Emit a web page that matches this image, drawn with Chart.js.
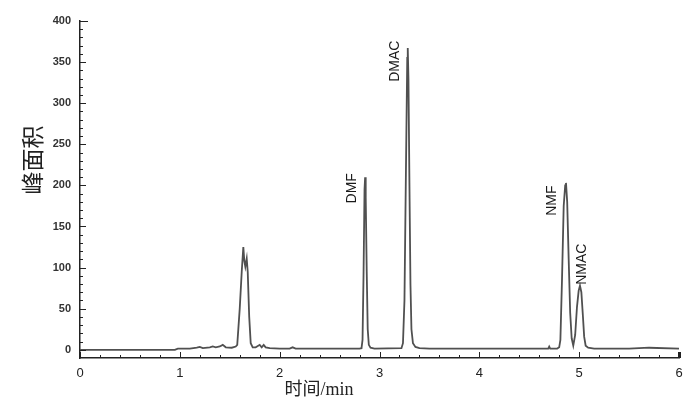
<!DOCTYPE html>
<html>
<head>
<meta charset="utf-8">
<script src="https://cdn.jsdelivr.net/npm/chart.js@4.4.1/dist/chart.umd.min.js"></script>
<style>
  html, body { margin: 0; padding: 0; background: #fff; }
  #wrap { width: 700px; height: 408px; }
</style>
</head>
<body>
<div id="wrap"><canvas id="myChart" width="700" height="408"></canvas></div>
<script>
// retention time (min) and detector signal
const tijd = [
  0, 0.5, 0.95, 0.98, 1.1, 1.17, 1.2, 1.23, 1.3, 1.33, 1.36, 1.4, 1.43, 1.46, 1.52, 1.56,
  1.575, 1.6, 1.62, 1.636, 1.646, 1.656, 1.67, 1.68, 1.695, 1.71, 1.73, 1.76, 1.8, 1.82, 1.84, 1.86, 1.9,
  2.0, 2.1, 2.13, 2.16, 2.4, 2.6, 2.8,
  2.82, 2.83, 2.84, 2.85, 2.856, 2.862, 2.872, 2.882, 2.893, 2.91, 2.95,
  3.22, 3.235, 3.25, 3.265, 3.278, 3.283, 3.29, 3.3, 3.31, 3.32, 3.335, 3.36, 3.4, 3.5,
  4.69, 4.7, 4.71, 4.78, 4.8,
  4.812, 4.828, 4.845, 4.86, 4.868, 4.88, 4.895, 4.91, 4.925, 4.941, 4.96, 4.978, 4.995, 5.008, 5.022, 5.037, 5.05, 5.065, 5.09,
  5.15, 5.5, 5.7, 6
];
const signaal = [
  0, 0, 0, 1.5, 1.5, 2.5, 3.5, 2, 3, 4, 3, 4, 6, 3, 2.5, 4,
  6, 50, 95, 125, 108, 101, 111, 95, 40, 8, 3, 3, 6, 3, 6, 3, 2,
  1.5, 1.5, 3, 1.5, 1.5, 1.5, 1.5,
  2, 12, 90, 195, 210, 185, 95, 25, 6, 2.5, 1.5,
  2, 8, 60, 220, 355, 367, 330, 200, 80, 25, 8, 3.5, 2, 1.5,
  1.5, 4, 1.5, 1.5, 3,
  12, 85, 175, 200, 203, 180, 110, 45, 14, 5, 18, 52, 72, 78, 70, 42, 16, 5, 2.5,
  1.5, 1.5, 2.5, 1.5
];

const xTicks = [0, 1, 2, 3, 4, 5, 6];
const yTicks = [0, 50, 100, 150, 200, 250, 300, 350, 400];

// peak names with the spot (time, signal) where the rotated text starts
const pieken = ["DMF", "DMAC", "NMF", "NMAC"];
const piekTijd = [2.73, 3.16, 4.725, 5.025];
const piekHoogte = [178, 326, 163, 79];

const punten = tijd.map((t, i) => ({ x: t, y: signaal[i] }));

const extraTekening = {
  id: "extraTekening",
  afterDraw(chart) {
    const ctx = chart.ctx;
    const xs = chart.scales.x;
    const ys = chart.scales.y;
    const area = chart.chartArea;
    ctx.save();
    ctx.strokeStyle = "#222";
    // ticks pointing inward, minor ones shorter
    ctx.lineWidth = 1;
    for (let v = 0; v <= 400.001; v += 10) {
      const py = Math.round(ys.getPixelForValue(v)) + 0.5;
      const major = Math.abs(v % 50) < 0.001;
      ctx.beginPath();
      ctx.moveTo(area.left, py);
      ctx.lineTo(area.left + (v === 400 ? 8 : major ? 6 : 3), py);
      ctx.stroke();
    }
    for (let i = 0; i <= 30; i++) {
      const v = i * 0.2;
      const px = Math.round(xs.getPixelForValue(v)) + 0.5;
      const major = i % 5 === 0;
      ctx.lineWidth = i === 30 ? 3 : 1;
      ctx.beginPath();
      ctx.moveTo(px, area.bottom);
      ctx.lineTo(px, area.bottom - (major ? 6 : 3));
      ctx.stroke();
    }

    // peak labels
    ctx.fillStyle = "#1a1a1a";
    ctx.font = "14px 'Liberation Sans', Arial, sans-serif";
    ctx.textAlign = "left";
    ctx.textBaseline = "middle";
    pieken.forEach((naam, i) => {
      ctx.save();
      ctx.translate(xs.getPixelForValue(piekTijd[i]), ys.getPixelForValue(piekHoogte[i]));
      ctx.rotate(-Math.PI / 2);
      ctx.fillText(naam, 0, 0);
      ctx.restore();
    });

    // axis titles
    ctx.fillStyle = "#222";
    ctx.textAlign = "center";
    ctx.font = "23px 'Liberation Serif', 'Noto Sans CJK SC', serif";
    ctx.save();
    ctx.translate(35, 160);
    ctx.rotate(-Math.PI / 2);
    ctx.fillText("峰面积", 0, 0);
    ctx.restore();
    ctx.font = "18px 'Liberation Serif', 'Noto Sans CJK SC', serif";
    ctx.fillText("时间/min", 319, 390);
    ctx.restore();
  },
};

new Chart(document.getElementById("myChart"), {
  type: "line",
  data: {
    datasets: [
      {
        label: "chromatogram",
        data: punten,
        borderColor: "#505050",
        borderWidth: 1.8,
        pointRadius: 0,
        tension: 0,
        fill: false,
      },
    ],
  },
  options: {
    responsive: false,
    animation: false,
    layout: { padding: { left: 0, right: 21, top: 21, bottom: 0 } },
    plugins: { legend: { display: false }, tooltip: { enabled: false } },
    scales: {
      x: {
        type: "linear",
        min: 0,
        max: 6,
        afterBuildTicks: (s) => { s.ticks = xTicks.map((v) => ({ value: v })); },
        afterFit: (s) => { s.height = 50; },
        grid: { display: false, drawTicks: false },
        border: { display: true, color: "#222", width: 1.5 },
        ticks: {
          padding: 8,
          color: "#222",
          font: { family: "'Liberation Sans', Arial, sans-serif", size: 13 },
          maxRotation: 0,
        },
      },
      y: {
        min: -10,
        max: 400,
        afterBuildTicks: (s) => { s.ticks = yTicks.map((v) => ({ value: v })); },
        afterFit: (s) => { s.width = 80; },
        grid: { display: false, drawTicks: false },
        border: { display: true, color: "#222", width: 1.5 },
        ticks: {
          padding: 9,
          color: "#333",
          font: { family: "'Liberation Sans', Arial, sans-serif", size: 11, weight: "bold" },
        },
      },
    },
  },
  plugins: [extraTekening],
});
</script>
</body>
</html>
